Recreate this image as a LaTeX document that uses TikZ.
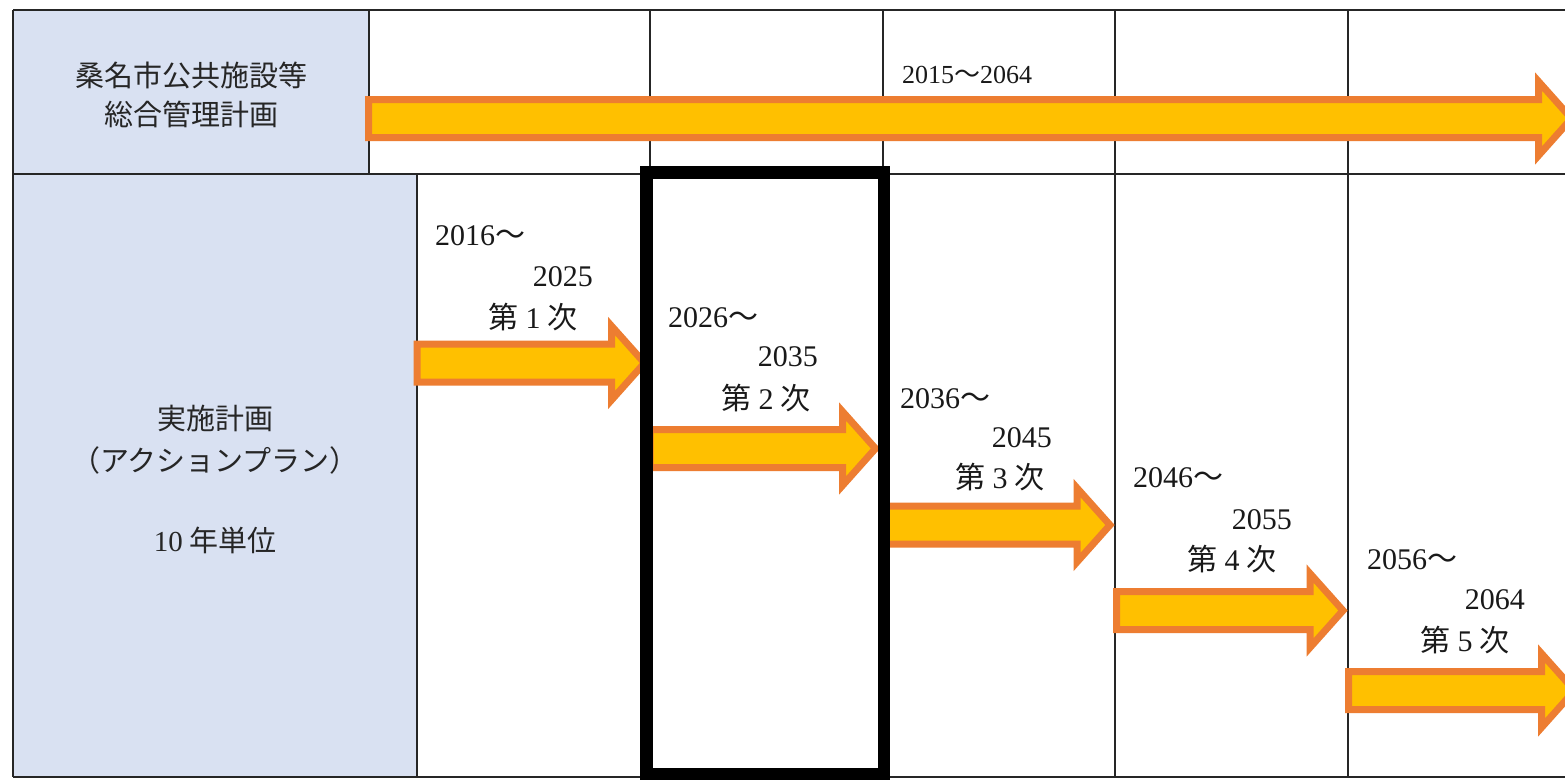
\documentclass[tikz,border=0pt]{standalone}
\usepackage{fontspec}
\setmainfont{Liberation Serif}
\newfontfamily\cjk{Noto Sans CJK JP}
\definecolor{lblue}{HTML}{D9E1F2}
\definecolor{aorange}{HTML}{ED7D31}
\definecolor{agold}{HTML}{FFC000}
\tikzset{
  gridline/.style={line width=1.5pt, draw=black!85},
  lbl/.style={inner sep=0pt, font=\fontsize{29}{39}\selectfont\cjk, text=black!85},
  yr/.style={inner sep=0pt, font=\fontsize{30}{34}\selectfont, text=black!90},
  yrsmall/.style={inner sep=0pt, font=\fontsize{26}{30}\selectfont, text=black!90},
  blk/.style={draw=aorange, fill=agold, line width=7pt, miter limit=10},
  focusbox/.style={draw=black, line width=12.5pt},
}
% #1 left x, #2 centre y, #3 head base x
\newcommand\blockarrow[3]{%
  \draw[blk] (#1,#2-19) -- (#3,#2-19) -- (#3,#2-37) -- (#3+33,#2)
    -- (#3,#2+37) -- (#3,#2+19) -- (#1,#2+19) -- cycle;}
\newcommand\ordn[1]{{\cjk 第}\makebox[29pt]{#1}{\cjk 次}}
\begin{document}
\begin{tikzpicture}[x=1pt,y=-1pt]
\useasboundingbox (0,0) rectangle (1565,780);
\clip (0,0) rectangle (1565,780);
\fill[white] (0,0) rectangle (1565,780);
% header fills
\fill[lblue] (13,10) rectangle (369,174);
\fill[lblue] (13,174) rectangle (417,777);
% grid
\draw[gridline] (13,10) -- (1565,10);
\draw[gridline] (13,174) -- (1565,174);
\draw[gridline] (13,777) -- (1565,777);
\draw[gridline] (13,10) -- (13,777);
\foreach \x in {369,650,883,1115,1348} \draw[gridline] (\x,10) -- (\x,174);
\foreach \x in {417,650,883,1115,1348} \draw[gridline] (\x,174) -- (\x,777);
% arrows
\blockarrow{368.5}{118.5}{1538.5}
\blockarrow{417}{363}{611.5}
\blockarrow{650}{448.5}{842.5}
\blockarrow{884}{525}{1077}
\blockarrow{1116.5}{610.5}{1310}
\blockarrow{1348.5}{690.5}{1541.5}
% left labels
\node[lbl, align=center] (plan) at (191,94.5) {桑名市公共施設等\\総合管理計画};
\node[lbl] (act1) at (215,418) {実施計画};
\node[lbl] (act2) at (215,460) {（アクションプラン）};
\node[lbl] (act3) at (215,540) {{\rmfamily 10} 年単位};
% top period
\node[yrsmall, anchor=west] (top) at (902,75) {2015{\cjk ～}2064};
% period groups
\node[yr, anchor=west] (s1) at (435,236) {2016{\cjk ～}};
\node[yr, anchor=east] (e1) at (593,277) {2025};
\node[yr] (o1) at (533,317) {\ordn{1}};
\node[yr, anchor=west] (s2) at (668,318) {2026{\cjk ～}};
\node[yr, anchor=east] (e2) at (818,357) {2035};
\node[yr] (o2) at (766,398) {\ordn{2}};
\node[yr, anchor=west] (s3) at (900,399) {2036{\cjk ～}};
\node[yr, anchor=east] (e3) at (1052,438) {2045};
\node[yr] (o3) at (1000,477) {\ordn{3}};
\node[yr, anchor=west] (s4) at (1133,478) {2046{\cjk ～}};
\node[yr, anchor=east] (e4) at (1292,520) {2055};
\node[yr] (o4) at (1232,559) {\ordn{4}};
\node[yr, anchor=west] (s5) at (1367,560) {2056{\cjk ～}};
\node[yr, anchor=east] (e5) at (1525,600) {2064};
\node[yr] (o5) at (1465,640) {\ordn{5}};
% highlighted current period
\draw[focusbox] (646.5,172.5) rectangle (884,774);
\end{tikzpicture}
\end{document}
